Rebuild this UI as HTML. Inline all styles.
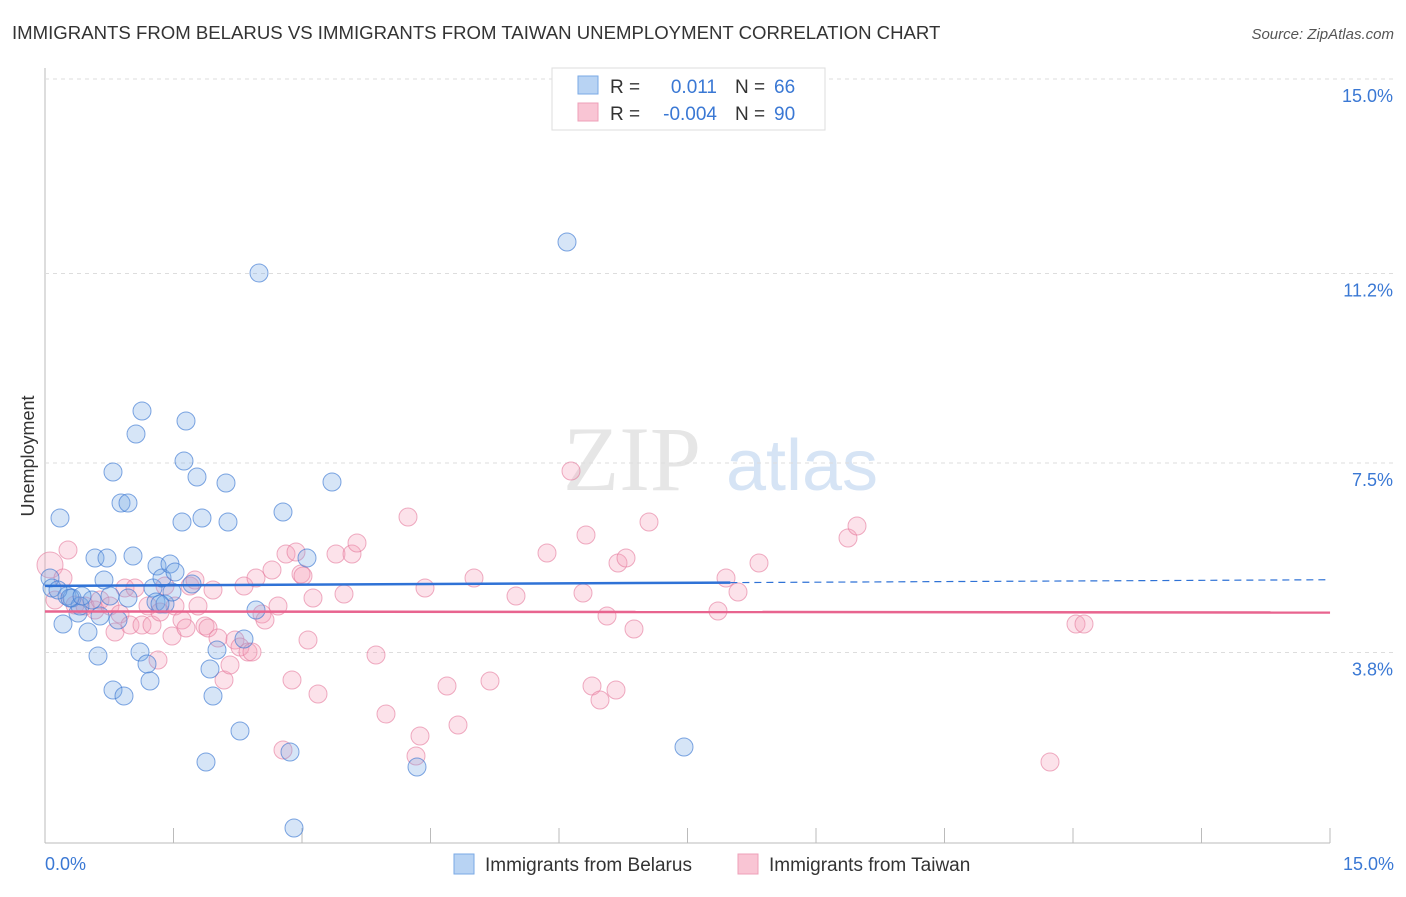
<!DOCTYPE html>
<html><head><meta charset="utf-8"><style>
body{margin:0;background:#fff;font-family:"Liberation Sans",sans-serif}
#wrap{position:relative;width:1406px;height:892px}
</style></head><body>
<div id="wrap">
<svg id="svg" width="1406" height="892">
<text x="12" y="39" font-size="18.6" fill="#333">IMMIGRANTS FROM BELARUS VS IMMIGRANTS FROM TAIWAN UNEMPLOYMENT CORRELATION CHART</text>
<text x="1394" y="39" font-size="15" fill="#555" font-style="italic" text-anchor="end">Source: ZipAtlas.com</text>
<text x="632" y="490" font-size="92" fill="#e6e6e6" font-family="Liberation Serif,serif" text-anchor="middle">ZIP</text>
<text x="802" y="490" font-size="72" fill="#d6e4f5" text-anchor="middle">atlas</text>
<text transform="translate(34,456) rotate(-90)" font-size="18" fill="#333" text-anchor="middle">Unemployment</text>
<g id="grid"></g><g id="pts"></g><g id="lines"></g>
<g>
<rect x="552" y="68" width="273" height="62" fill="#fff" stroke="#ddd"/>
<rect x="578" y="76" width="20" height="18" fill="#b8d3f3" stroke="#7aaae6"/>
<rect x="578" y="103" width="20" height="18" fill="#f9c5d4" stroke="#eea0b8"/>
<text x="610" y="93" font-size="19" fill="#333">R =</text><text x="717" y="93" font-size="19" fill="#3a78d4" text-anchor="end">0.011</text>
<text x="735" y="93" font-size="19" fill="#333">N =</text><text x="774" y="93" font-size="19" fill="#3a78d4">66</text>
<text x="610" y="120" font-size="19" fill="#333">R =</text><text x="717" y="120" font-size="19" fill="#3a78d4" text-anchor="end">-0.004</text>
<text x="735" y="120" font-size="19" fill="#333">N =</text><text x="774" y="120" font-size="19" fill="#3a78d4">90</text>
</g>
<g>
<rect x="454" y="854" width="20" height="20" fill="#b8d3f3" stroke="#7aaae6"/>
<text x="485" y="871" font-size="19" fill="#333">Immigrants from Belarus</text>
<rect x="738" y="854" width="20" height="20" fill="#f9c5d4" stroke="#eea0b8"/>
<text x="769" y="871" font-size="19" fill="#333">Immigrants from Taiwan</text>
</g>
<text x="45" y="870" font-size="18" fill="#3a78d4">0.0%</text>
<text x="1394" y="870" font-size="18" fill="#3a78d4" text-anchor="end">15.0%</text>
</svg></div>
<script>
const yTicks=[15.0,11.2,7.5,3.8];
const yTickLabels=["15.0%","11.2%","7.5%","3.8%"];
const blueX=[50,52,60,63,67,72,78,80,88,92,95,98,104,107,110,113,113,118,121,124,128,128,133,136,140,142,147,150,153,156,157,162,165,170,172,175,182,184,186,192,197,202,206,210,213,217,226,228,240,244,256,259,283,290,294,307,332,417,567,684,58,70,100,160,82].map(p=>(p-45)/85.67);
const blueY=[578,588,518,624,596,598,613,606,632,600,558,656,580,558,596,472,690,620,503,696,503,598,556,434,652,411,664,681,588,602,566,578,604,564,592,572,522,461,421,584,477,518,762,669,696,650,483,522,731,639,610,273,512,752,828,558,482,767,242,747,590,598,616,604,596].map(p=>(847-p)/51.2);
const pinkX=[50,55,68,63,75,85,95,100,110,115,120,125,130,135,142,148,152,158,160,165,172,175,182,186,190,195,198,205,208,213,218,224,230,235,240,244,248,252,256,262,265,272,278,283,286,292,296,301,303,308,313,318,336,344,352,357,376,386,408,420,416,425,447,458,474,490,516,547,571,583,586,592,600,607,616,618,626,634,649,718,726,738,759,848,857,1050,1076,1084].map(p=>(p-45)/85.67);
const pinkY=[565,600,550,578,605,606,610,600,606,632,614,588,625,588,625,606,625,660,612,586,636,606,620,628,586,580,606,626,628,590,638,680,665,640,647,586,652,652,578,614,620,570,606,750,554,680,552,574,576,640,598,694,554,594,554,543,655,714,517,736,756,588,686,725,578,681,596,553,471,593,535,686,700,616,690,563,558,629,522,611,578,592,563,538,526,762,624,624].map(p=>(847-p)/51.2);
const blueTrend=[5.1,5.22];const pinkTrend=[4.6,4.58];
const X=v=>45+v*85.67, Y=v=>847-v*51.2;
const NS="http://www.w3.org/2000/svg";
function mk(t,a,parent){const e=document.createElementNS(NS,t);for(const k in a)e.setAttribute(k,a[k]);parent.appendChild(e);return e;}
const grid=document.getElementById('grid');
mk('line',{x1:45,y1:68,x2:45,y2:843,stroke:'#bbb'},grid);
mk('line',{x1:45,y1:843,x2:1330,y2:843,stroke:'#bbb'},grid);
for(let i=0;i<=10;i++){mk('line',{x1:45+i*128.5,y1:828,x2:45+i*128.5,y2:843,stroke:'#bbb'},grid);}
yTicks.forEach((t,i)=>{
 const l=mk('line',{x1:45,x2:1394,y1:Y(t),y2:Y(t),stroke:'#ddd','stroke-dasharray':'4,4'},grid);
 
 
 const tx=mk('text',{x:1393,y:Y(t)+23,'font-size':18,fill:'#3a78d4','text-anchor':'end'},grid);
 tx.textContent=yTickLabels[i];
 
 
});
const pts=document.getElementById('pts');
pinkX.forEach((x,i)=>{const c=mk('circle',{cx:X(x),cy:Y(pinkY[i]),r:i==0?13:9,fill:'rgba(244,160,185,0.3)',stroke:'rgba(229,120,155,0.6)','stroke-width':1},pts);
 
 });
blueX.forEach((x,i)=>{const c=mk('circle',{cx:X(x),cy:Y(blueY[i]),r:9,fill:'rgba(120,170,230,0.3)',stroke:'rgba(60,120,210,0.65)','stroke-width':1},pts);
 
 });
const lines=document.getElementById('lines');
const bAt=v=>blueTrend[0]+(blueTrend[1]-blueTrend[0])*v/15;
let l1=mk('line',{x1:X(0),y1:Y(bAt(0)),x2:X(8),y2:Y(bAt(8)),stroke:'#2f72d6','stroke-width':2.5},lines);


let l2=mk('line',{x1:X(8),y1:Y(bAt(8)),x2:X(15),y2:Y(bAt(15)),stroke:'#2f72d6','stroke-width':1.2,'stroke-dasharray':'7,5'},lines);


let l3=mk('line',{x1:X(0),y1:Y(pinkTrend[0]),x2:X(15),y2:Y(pinkTrend[1]),stroke:'#e8648f','stroke-width':2.5},lines);


</script>
</body></html>
